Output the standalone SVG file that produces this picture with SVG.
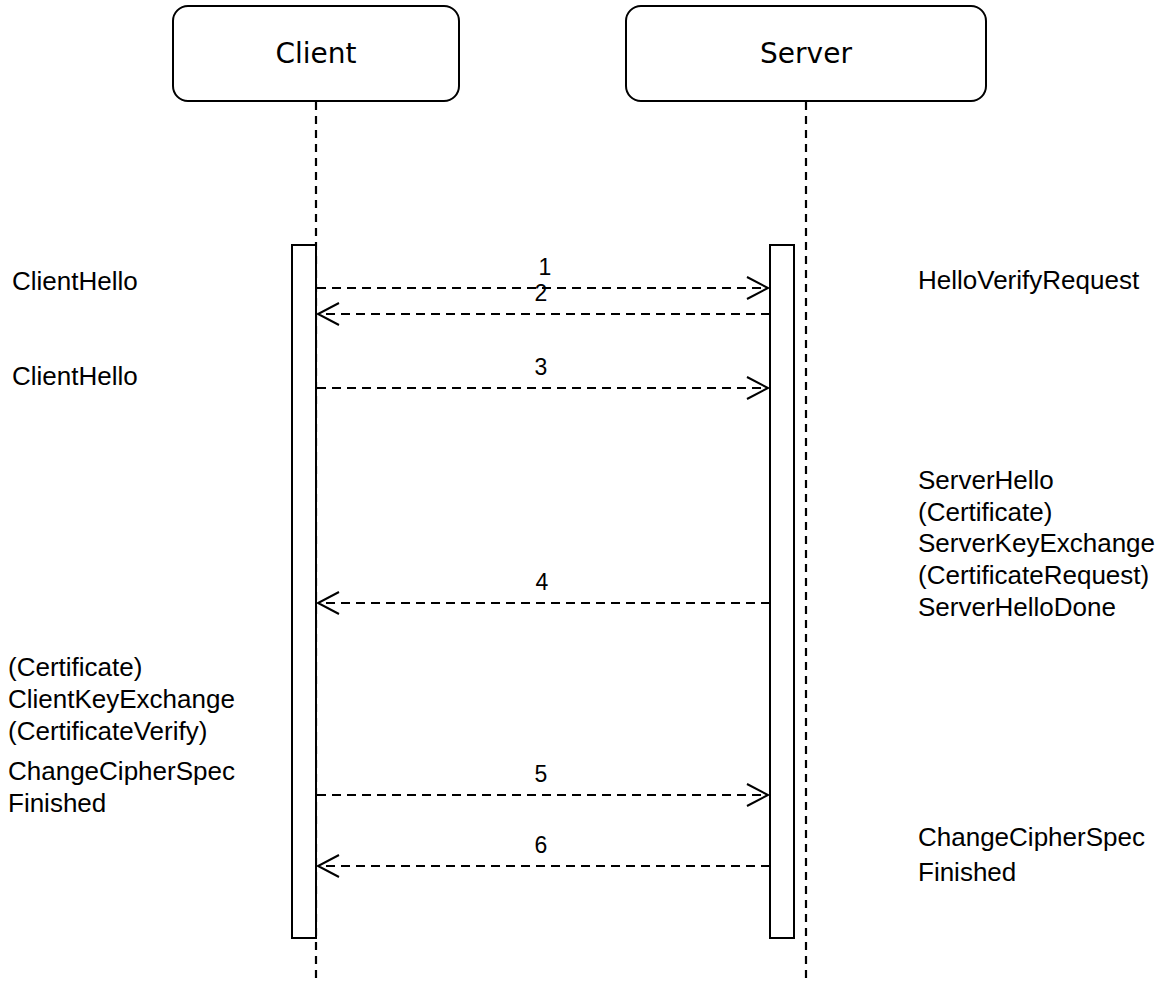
<svg xmlns="http://www.w3.org/2000/svg" width="1164" height="984" viewBox="0 0 1164 984">
<style>
.hdr{fill:#fff;stroke:#000;stroke-width:2}
.hdrt{font-family:"DejaVu Sans",sans-serif;font-size:28px;fill:#000;text-anchor:middle}
.life{stroke:#000;stroke-width:2.2;stroke-dasharray:8 6;fill:none}
.bar{fill:#fff;stroke:#000;stroke-width:2}
.msg{stroke:#000;stroke-width:2;stroke-dasharray:9 6;fill:none}
.num{font-family:"Liberation Sans",Arial,sans-serif;font-size:23px;fill:#000;text-anchor:middle}
.lbl{font-family:"Liberation Sans",Arial,sans-serif;font-size:26px;fill:#000}
</style>
<defs>
<marker id="open" markerUnits="userSpaceOnUse" markerWidth="30" markerHeight="30" viewBox="-25 -15 30 30" refX="0" refY="0" orient="auto">
<path d="M -21 -11 L 0 0 L -21 11" fill="none" stroke="#000" stroke-width="2"/>
</marker>
</defs>
<rect width="1164" height="984" fill="#fff"/>
<g id="lifelines">
<line class="life" x1="316" y1="102" x2="316" y2="984"/>
<line class="life" x1="806" y1="102" x2="806" y2="984"/>
</g>
<g id="client">
<rect class="hdr" x="173" y="6" width="286" height="95" rx="15"/>
<text class="hdrt" x="316" y="63">Client</text>
</g>
<g id="server">
<rect class="hdr" x="626" y="6" width="360" height="95" rx="15"/>
<text class="hdrt" x="806" y="63">Server</text>
</g>
<g id="client-activation">
<rect class="bar" x="292" y="245" width="24" height="693"/>
</g>
<g id="server-activation">
<rect class="bar" x="770" y="245" width="24" height="693"/>
</g>
<g id="connectors">
<line class="msg" x1="317" y1="288" x2="768" y2="288" marker-end="url(#open)"/>
<line class="msg" x1="770" y1="314" x2="318" y2="314" marker-end="url(#open)"/>
<line class="msg" x1="317" y1="388" x2="768" y2="388" marker-end="url(#open)"/>
<line class="msg" x1="770" y1="603" x2="318" y2="603" marker-end="url(#open)"/>
<line class="msg" x1="317" y1="795" x2="768" y2="795" marker-end="url(#open)"/>
<line class="msg" x1="770" y1="866" x2="318" y2="866" marker-end="url(#open)"/>
<text class="num" x="545" y="275">1</text>
<text class="num" x="541" y="301">2</text>
<text class="num" x="541" y="375">3</text>
<text class="num" x="542" y="590">4</text>
<text class="num" x="541" y="782">5</text>
<text class="num" x="541" y="853">6</text>
</g>
<g id="client-labels">
<text class="lbl" x="12" y="290">ClientHello</text>
<text class="lbl" x="12" y="385">ClientHello</text>
<text class="lbl" x="8" y="676">(Certificate)</text>
<text class="lbl" x="8" y="708">ClientKeyExchange</text>
<text class="lbl" x="8" y="740">(CertificateVerify)</text>
<text class="lbl" x="8" y="780">ChangeCipherSpec</text>
<text class="lbl" x="8" y="812">Finished</text>
</g>
<g id="server-labels">
<text class="lbl" x="918" y="289">HelloVerifyRequest</text>
<text class="lbl" x="918" y="489">ServerHello</text>
<text class="lbl" x="918" y="521">(Certificate)</text>
<text class="lbl" x="918" y="552">ServerKeyExchange</text>
<text class="lbl" x="918" y="584">(CertificateRequest)</text>
<text class="lbl" x="918" y="616">ServerHelloDone</text>
<text class="lbl" x="918" y="846">ChangeCipherSpec</text>
<text class="lbl" x="918" y="881">Finished</text>
</g>
</svg>
